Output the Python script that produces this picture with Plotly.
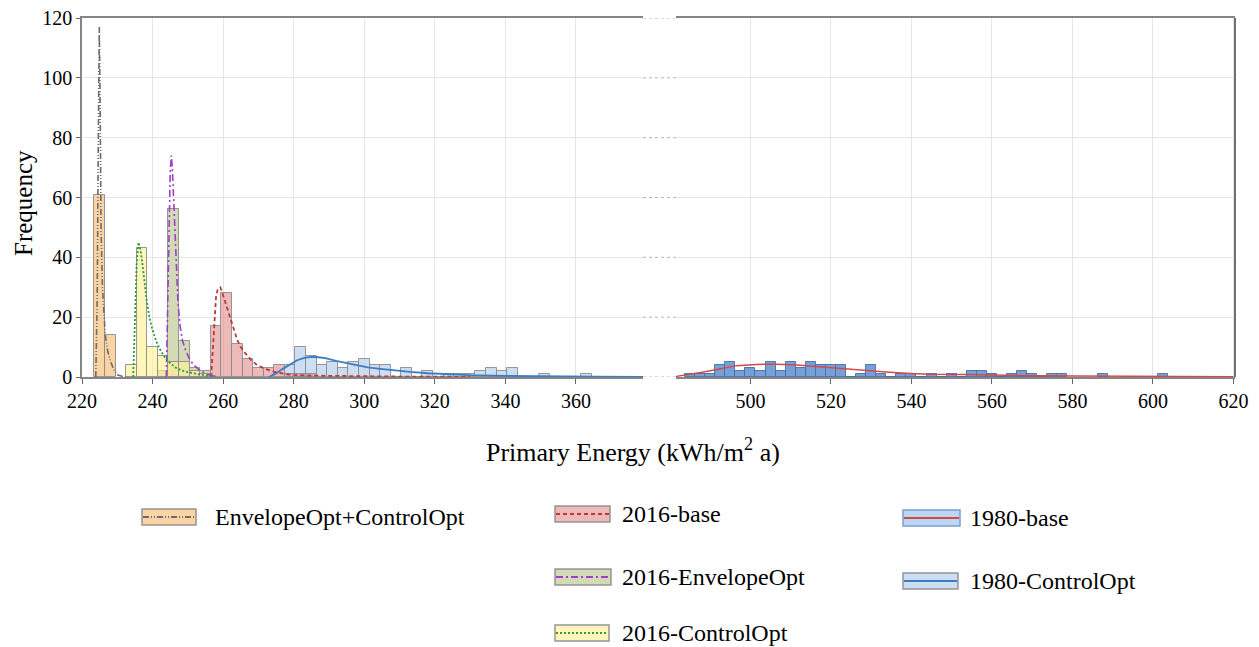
import plotly.graph_objects as go

# ---------------- data ----------------
series_names = ["EnvelopeOpt+ControlOpt", "2016-base", "2016-EnvelopeOpt",
                "2016-ControlOpt", "1980-base", "1980-ControlOpt"]

x_ticks_left = [220, 240, 260, 280, 300, 320, 340, 360]
x_ticks_right = [500, 520, 540, 560, 580, 600, 620]
y_ticks = [0, 20, 40, 60, 80, 100, 120]

bin_width_left = 3.0
bin_width_right = 2.5

# EnvelopeOpt+ControlOpt
envctrl_centers = [225, 228]
envctrl_counts = [61, 14]
envctrl_curve_x = [223.9, 224.3, 224.6, 224.9, 225.15, 225.4, 225.8, 226.2, 226.6, 227.3, 228.0, 229.0, 229.9, 231.5, 233.0]
envctrl_curve_y = [0, 25, 75, 117, 90, 50, 30, 20, 14, 8.5, 5.5, 2.5, 0.8, 0.2, 0]

# 2016-ControlOpt
c16ctrl_centers = [234, 237, 240, 243, 246, 249, 252, 255]
c16ctrl_counts = [4, 43, 10, 7, 5, 5, 2, 1]
c16ctrl_curve_x = [234.5, 235.0, 235.5, 236.0, 236.5, 237.0, 237.7, 238.4, 239.1, 239.8, 241.0, 242.2, 243.5, 245.0, 246.5, 248.0, 250.0, 252.0, 255.0, 258.0]
c16ctrl_curve_y = [0, 18, 38, 45, 43, 39, 31, 25, 20, 16.5, 12, 9, 6.5, 4.6, 3.2, 2.3, 1.6, 1.1, 0.5, 0.2]

# 2016-EnvelopeOpt
c16env_centers = [243, 246, 249, 252, 255]
c16env_counts = [2, 56, 12, 3, 2]
c16env_curve_x = [243.9, 244.3, 244.7, 245.0, 245.3, 245.6, 246.0, 246.4, 246.8, 247.2, 247.8, 248.5, 249.5, 250.5, 251.5, 253.0, 255.5, 258.0]
c16env_curve_y = [0, 20, 50, 68, 74, 70, 58, 46, 34, 25, 17, 12, 8.5, 6, 4.2, 2.6, 0.8, 0.2]

# 2016-base
b16_centers = [258, 261, 264, 267, 270, 273, 276, 279, 282, 285]
b16_counts = [17, 28, 11, 6, 3, 3, 4, 1, 1, 1]
b16_curve_x = [256.6, 257.0, 257.5, 258.0, 258.5, 259.2, 259.8, 260.6, 261.3, 262.0, 263.0, 264.0, 265.0, 266.3, 268.0, 269.6, 272.0, 274.3, 277.0, 280.0, 285.0, 295.0, 310.0, 330.0]
b16_curve_y = [0, 9, 19, 27, 29.5, 30, 28, 25, 22.5, 20, 16, 12.4, 10, 7.9, 5.6, 4, 2.7, 1.8, 1.1, 0.7, 0.45, 0.3, 0.15, 0.05]

# 1980-ControlOpt
c80ctrl_centers = [279, 282, 285, 288, 291, 294, 297, 300, 303, 306, 309, 312, 315, 318, 321,
                   324, 327, 330, 333, 336, 339, 342, 345, 348, 351, 354, 357, 360, 363]
c80ctrl_counts = [4, 10, 7, 4, 5, 3, 5, 6, 4, 4, 0, 3, 0, 2, 0,
                  1, 1, 1, 2, 3, 2, 3, 0, 0, 1, 0, 0, 0, 1]
c80ctrl_curve_x = [273, 275, 277, 279, 281, 283, 285, 287, 289, 292, 295, 298, 301, 304.5, 308, 313, 318, 323, 330, 340, 350, 365, 379]
c80ctrl_curve_y = [0, 1.2, 2.8, 4.3, 5.6, 6.4, 6.7, 6.6, 6.3, 5.4, 4.6, 3.8, 3.2, 2.7, 2.2, 1.7, 1.25, 0.95, 0.6, 0.35, 0.2, 0.08, 0.03]

# 1980-base
b80_centers = [485, 487.5, 490, 492.5, 495, 497.5, 500, 502.5, 505, 507.5, 510, 512.5, 515, 517.5,
               520, 522.5, 525, 527.5, 530, 532.5, 535, 537.5, 540, 542.5, 545, 547.5, 550, 552.5,
               555, 557.5, 560, 562.5, 565, 567.5, 570, 572.5, 575, 577.5, 587.5, 602.5]
b80_counts = [1, 1, 1, 4, 5, 2, 3, 2, 5, 2, 5, 3, 5, 4,
              4, 4, 0, 1, 4, 1, 0, 1, 1, 0, 1, 0, 1, 0,
              2, 2, 1, 0, 1, 2, 1, 0, 1, 1, 1, 1]
b80_curve_x = [481.5, 484, 488, 492, 496.5, 501.5, 506.5, 511.5, 516.5, 521.5, 528, 534.5, 541, 545, 553.5, 562, 572, 580, 595, 620]
b80_curve_y = [0.2, 0.7, 1.6, 2.6, 3.8, 4.2, 4.3, 4.0, 3.5, 2.9, 2.1, 1.6, 1.1, 0.9, 0.8, 0.55, 0.4, 0.35, 0.25, 0.1]

# ---------------- styling ----------------
FONT = "Times New Roman, Liberation Serif, serif"
OFF = 8  # default page body margin
W, H = 1259 - OFF, 647 - OFF
ML, MR, MT, MB = 82 - OFF, 24, 18 - OFF, 270
PW = W - ML - MR
PH = H - MT - MB


def px(x):
    # page pixel -> paper fraction
    return (x - OFF - ML) / PW


def py(y):
    return (H - MB - (y - OFF)) / PH


left_dom = [0, px(643)]
right_dom = [px(676), 1]

fills = {
    "EnvelopeOpt+ControlOpt": "rgba(248,196,128,0.72)",
    "2016-base": "rgba(222,128,128,0.55)",
    "2016-EnvelopeOpt": "rgba(188,200,148,0.68)",
    "2016-ControlOpt": "rgba(255,241,150,0.65)",
    "1980-base": "rgba(88,140,208,0.82)",
    "1980-ControlOpt": "rgba(178,205,236,0.65)",
}
edge = "rgba(140,140,140,0.9)"
curve_style = {
    "EnvelopeOpt+ControlOpt": dict(color="#6b6b6b", dash="6px,2px,1px,2px,1px,2px", width=1.6),
    "2016-base": dict(color="#b83a3c", dash="4px,3px", width=1.8),
    "2016-EnvelopeOpt": dict(color="#a23ccc", dash="7px,3px,2px,3px", width=1.6),
    "2016-ControlOpt": dict(color="#2c9a3c", dash="2px,2px", width=1.8),
    "1980-base": dict(color="#d04a4a", dash="solid", width=1.5),
    "1980-ControlOpt": dict(color="#3b7cc6", dash="solid", width=1.8),
}

fig = go.Figure()


def add_bars(name, centers, counts, width, xaxis, line_color=edge):
    fig.add_trace(go.Bar(x=centers, y=counts, width=width, xaxis=xaxis, yaxis="y",
                         marker=dict(color=fills[name], line=dict(color=line_color, width=1)),
                         showlegend=False, hoverinfo="skip", name=name))


def add_curve(name, xs, ys, xaxis):
    fig.add_trace(go.Scatter(x=xs, y=ys, mode="lines", xaxis=xaxis, yaxis="y",
                             line=curve_style[name], showlegend=False, hoverinfo="skip", name=name))


add_bars("1980-ControlOpt", c80ctrl_centers, c80ctrl_counts, bin_width_left, "x")
add_bars("2016-base", b16_centers, b16_counts, bin_width_left, "x")
add_bars("2016-EnvelopeOpt", c16env_centers, c16env_counts, bin_width_left, "x")
add_bars("2016-ControlOpt", c16ctrl_centers, c16ctrl_counts, bin_width_left, "x")
add_bars("EnvelopeOpt+ControlOpt", envctrl_centers, envctrl_counts, bin_width_left, "x")
add_bars("1980-base", b80_centers, b80_counts, bin_width_right, "x2", line_color="rgba(70,110,170,0.9)")

add_curve("1980-ControlOpt", c80ctrl_curve_x, c80ctrl_curve_y, "x")
add_curve("2016-base", b16_curve_x, b16_curve_y, "x")
add_curve("2016-EnvelopeOpt", c16env_curve_x, c16env_curve_y, "x")
add_curve("2016-ControlOpt", c16ctrl_curve_x, c16ctrl_curve_y, "x")
add_curve("EnvelopeOpt+ControlOpt", envctrl_curve_x, envctrl_curve_y, "x")
add_curve("1980-base", b80_curve_x, b80_curve_y, "x2")

TICKFONT = dict(family=FONT, size=20, color="black")
axis_common = dict(showgrid=True, gridcolor="#e6e6e6", gridwidth=1, zeroline=False,
                   showline=True, linecolor="#858585", linewidth=1.5, mirror=True,
                   ticks="outside", ticklen=5, tickcolor="#666666",
                   ticklabeloverflow="allow", tickfont=TICKFONT)

fig.update_layout(
    width=W, height=H, margin=dict(l=ML, r=MR, t=MT, b=MB, autoexpand=False),
    plot_bgcolor="white", paper_bgcolor="white", barmode="overlay", bargap=0,
    xaxis=dict(domain=left_dom, range=[220, 379], tickvals=x_ticks_left, anchor="y", **axis_common),
    xaxis2=dict(domain=right_dom, range=[481.5, 620.4], tickvals=x_ticks_right, anchor="y", **axis_common),
    yaxis=dict(range=[0, 120], tickvals=y_ticks, showgrid=True, gridcolor="#e6e6e6", zeroline=False,
               showline=True, linecolor="#858585", linewidth=1.5, ticks="outside", ticklen=4,
               tickcolor="#666666", ticklabeloverflow="allow", tickfont=TICKFONT),
    showlegend=False,
)

shapes = []
# dotted break region gridlines
for yv in y_ticks:
    shapes.append(dict(type="line", xref="paper", yref="y", x0=left_dom[1], x1=right_dom[0], y0=yv, y1=yv,
                       line=dict(color="#b5b5b5", width=1, dash="dot")))
# right border
shapes.append(dict(type="line", xref="paper", yref="y", x0=1, x1=1, y0=0, y1=120,
                   line=dict(color="#707070", width=2)))

# custom legend
legend_items = [
    ("EnvelopeOpt+ControlOpt", 142, 196, 517, 213, edge),
    ("2016-base", 555, 610, 514, 620, edge),
    ("2016-EnvelopeOpt", 555, 611, 577, 620, edge),
    ("2016-ControlOpt", 555, 609, 633, 620, edge),
    ("1980-base", 903, 960, 518, 968, "#7b9fd0"),
    ("1980-ControlOpt", 903, 958, 581, 968, edge),
]
legend_fill = dict(fills)
legend_fill["1980-base"] = "rgba(190,214,242,1)"
annotations = []
for key, x0, x1, yc, tx, bcol in legend_items:
    shapes.append(dict(type="rect", xref="paper", yref="paper", x0=px(x0), x1=px(x1),
                       y0=py(yc + 8), y1=py(yc - 8), fillcolor=legend_fill[key],
                       line=dict(color=bcol, width=1.5)))
    ls = curve_style[key]
    shapes.append(dict(type="line", xref="paper", yref="paper", x0=px(x0 + 1), x1=px(x1 - 1),
                       y0=py(yc), y1=py(yc), line=dict(color=ls["color"], width=2.2, dash=ls["dash"])))
    annotations.append(dict(x=px(tx), y=py(yc), xref="paper", yref="paper", text=key,
                            showarrow=False, xanchor="left", yanchor="middle",
                            font=dict(family=FONT, size=24, color="black")))

annotations.append(dict(x=px(23), y=py(203), xref="paper", yref="paper", text="Frequency",
                        textangle=-90, showarrow=False, xanchor="center", yanchor="middle",
                        font=dict(family=FONT, size=25, color="black")))
annotations.append(dict(x=px(633), y=py(450), xref="paper", yref="paper",
                        text="Primary Energy (kWh/m<sup>2</sup> a)", showarrow=False,
                        xanchor="center", yanchor="middle",
                        font=dict(family=FONT, size=26, color="black")))

fig.update_layout(shapes=shapes, annotations=annotations)

fig.write_html("out.html")
